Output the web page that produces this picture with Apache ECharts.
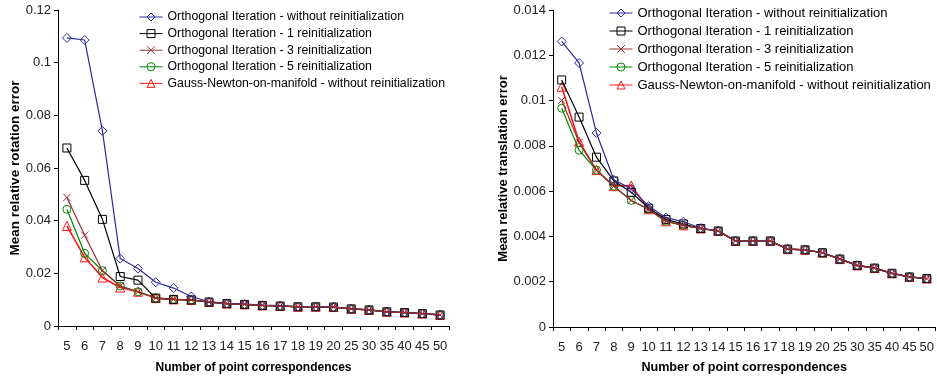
<!DOCTYPE html>
<html>
<head>
<meta charset="utf-8">
<script src="https://cdn.jsdelivr.net/npm/echarts@6/dist/echarts.min.js"></script>
<style>html,body{margin:0;padding:0;background:#fff}#c{width:937px;height:379px}</style>
</head>
<body>
<div id="c"></div>
<script>
const categories = ['5','6','7','8','9','10','11','12','13','14','15','16','17','18','19','20','25','30','35','40','45','50'];
const seriesNames = [
  'Orthogonal Iteration - without reinitialization',
  'Orthogonal Iteration - 1 reinitialization',
  'Orthogonal Iteration - 3 reinitialization',
  'Orthogonal Iteration - 5 reinitialization',
  'Gauss-Newton-on-manifold - without reinitialization'
];
// Rotation error (left chart)
const rotOI0 = [0.1094,0.1086,0.0741,0.0256,0.0218,0.0166,0.0144,0.0112,0.0092,0.0086,0.0083,0.0079,0.0077,0.0074,0.0074,0.0072,0.0065,0.0061,0.0054,0.0051,0.0047,0.0042];
const rotOI1 = [0.0676,0.0553,0.0405,0.0188,0.0174,0.0106,0.0101,0.0099,0.0091,0.0085,0.0082,0.0078,0.0076,0.0073,0.0073,0.0072,0.0065,0.0061,0.0054,0.0051,0.0047,0.0042];
const rotOI3 = [0.0488,0.0345,0.0210,0.0152,0.0130,0.0106,0.0101,0.0099,0.0091,0.0085,0.0082,0.0078,0.0076,0.0073,0.0073,0.0072,0.0065,0.0061,0.0054,0.0051,0.0047,0.0042];
const rotOI5 = [0.0443,0.0276,0.0210,0.0152,0.0130,0.0106,0.0101,0.0099,0.0091,0.0085,0.0082,0.0078,0.0076,0.0073,0.0073,0.0072,0.0065,0.0061,0.0054,0.0051,0.0047,0.0042];
const rotGN  = [0.0380,0.0261,0.0184,0.0146,0.0130,0.0106,0.0101,0.0099,0.0091,0.0085,0.0082,0.0078,0.0076,0.0073,0.0073,0.0072,0.0065,0.0061,0.0054,0.0051,0.0047,0.0042];
// Translation error (right chart)
const trOI0 = [0.01261,0.01166,0.00857,0.00650,0.00610,0.00534,0.00483,0.00465,0.00437,0.00424,0.00380,0.00380,0.00380,0.00344,0.00341,0.00328,0.00300,0.00272,0.00260,0.00237,0.00221,0.00214];
const trOI1 = [0.01091,0.00927,0.00750,0.00645,0.00595,0.00525,0.00475,0.00455,0.00435,0.00424,0.00380,0.00380,0.00380,0.00344,0.00341,0.00328,0.00300,0.00272,0.00260,0.00237,0.00221,0.00214];
const trOI3 = [0.01001,0.00815,0.00693,0.00622,0.00559,0.00520,0.00467,0.00449,0.00435,0.00424,0.00380,0.00380,0.00380,0.00344,0.00341,0.00328,0.00300,0.00272,0.00260,0.00237,0.00221,0.00214];
const trOI5 = [0.00966,0.00781,0.00693,0.00622,0.00559,0.00520,0.00467,0.00449,0.00435,0.00424,0.00380,0.00380,0.00380,0.00344,0.00341,0.00328,0.00300,0.00272,0.00260,0.00237,0.00221,0.00214];
const trGN  = [0.01061,0.00818,0.00693,0.00622,0.00625,0.00520,0.00467,0.00449,0.00435,0.00424,0.00380,0.00380,0.00380,0.00344,0.00341,0.00328,0.00300,0.00272,0.00260,0.00237,0.00221,0.00214];

const FONT = 'Liberation Sans, Arial, sans-serif';
const styles = [
  {color:'#2a2aa0', symbol:'diamond', size:9, width:1.2, z:5},
  {color:'#000000', symbol:'rect', size:8, width:1.2, z:4},
  {color:'#993030', symbol:'path://M0,0L10,10M10,0L0,10', size:7, width:1.2, z:6},
  {color:'#008800', symbol:'circle', size:8, width:1.2, z:3},
  {color:'#ff1818', symbol:'triangle', size:9, width:1.6, z:2}
];
function mk(name, data, st, idx){
  return {
    name, type:'line', data, xAxisIndex:idx, yAxisIndex:idx,
    symbol:st.symbol, symbolSize:st.size, showSymbol:true, z:st.z,
    lineStyle:{color:st.color, width:st.width, type:'solid'},
    itemStyle:{color:'rgba(255,255,255,0)', borderColor:st.color, borderWidth:1},
    emphasis:{disabled:true}, animation:false
  };
}
const rot = [rotOI0, rotOI1, rotOI3, rotOI5, rotGN];
const tr = [trOI0, trOI1, trOI3, trOI5, trGN];
const series = [];
rot.forEach((d,i)=>series.push(mk(seriesNames[i], d, styles[i], 0)));
tr.forEach((d,i)=>series.push(mk(seriesNames[i], d, styles[i], 1)));

function xAx(idx, gap, nameSize){
  return {
    type:'category', gridIndex:idx, data:categories, boundaryGap:true,
    axisLine:{lineStyle:{color:'#000', width:1}},
    axisTick:{show:true, alignWithLabel:false, length:4, lineStyle:{color:'#000'}},
    axisLabel:{interval:0, color:'#222', fontFamily:FONT, fontSize:13, margin:14},
    name:'Number of point correspondences', nameLocation:'middle', nameGap:gap,
    nameTextStyle:{fontFamily:FONT, fontSize:nameSize, fontWeight:'bold', color:'#000'}
  };
}
function yAx(idx, max, interval, name, gap, nameSize){
  return {
    type:'value', gridIndex:idx, min:0, max, interval,
    splitLine:{show:false},
    axisLine:{show:true, lineStyle:{color:'#000', width:1}},
    axisTick:{show:true, length:4, lineStyle:{color:'#000'}},
    axisLabel:{color:'#222', fontFamily:FONT, fontSize:13, margin:7},
    name, nameLocation:'middle', nameGap:gap, nameRotate:90,
    nameTextStyle:{fontFamily:FONT, fontSize:nameSize, fontWeight:'bold', color:'#000'}
  };
}
function leg(left, top, gap, fs){
  return {
    orient:'vertical', left, top, padding:0, itemGap:gap, itemWidth:23, itemHeight:10,
    data:seriesNames, selectedMode:false,
    lineStyle:{width:1},
    itemStyle:{borderWidth:1},
    textStyle:{fontFamily:FONT, fontSize:fs, color:'#000', lineHeight:14}
  };
}
const chart = echarts.init(document.getElementById('c'), null, {renderer:'canvas'});
chart.setOption({
  animation:false,
  backgroundColor:'#fff',
  grid:[
    {left:58, top:10, width:391, height:316},
    {left:553, top:10, width:383, height:319}
  ],
  xAxis:[xAx(0, 36, 12), xAx(1, 34, 12.6)],
  yAxis:[yAx(0, 0.12, 0.02, 'Mean relative rotation error', 32, 13.5), yAx(1, 0.014, 0.002, 'Mean relative translation error', 39, 13)],
  legend:[leg(139, 10, 2.6, 12.3), leg(609, 6, 4, 13)],
  series
});
</script>
</body>
</html>
